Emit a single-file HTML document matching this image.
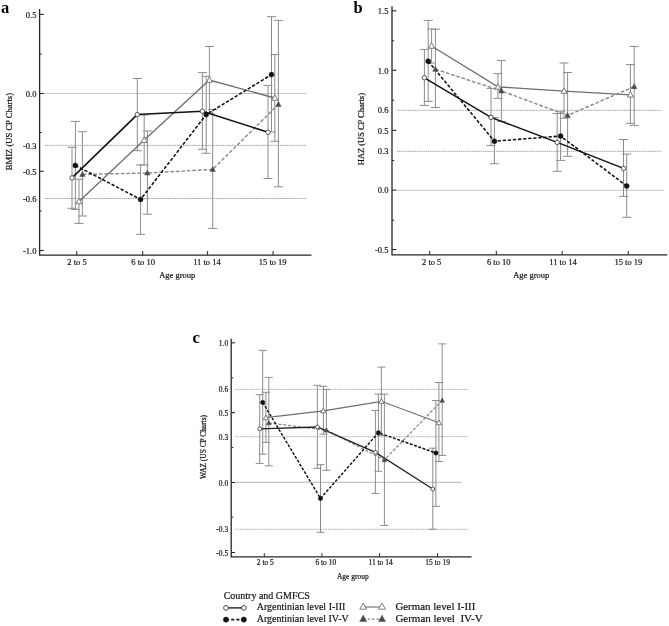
<!DOCTYPE html>
<html><head><meta charset="utf-8"><title>Figure</title>
<style>html,body{margin:0;padding:0;background:#fff;}svg{display:block;filter:grayscale(100%) blur(0.35px);}text{font-family:"Liberation Serif",serif;}</style></head><body>
<svg width="669" height="626" viewBox="0 0 669 626">
<rect width="669" height="626" fill="#fff"/>
<line x1="44.5" y1="93.5" x2="306.5" y2="93.5" stroke="#c4c4c4" stroke-width="1.1" />
<line x1="44.5" y1="145.4" x2="306.5" y2="145.4" stroke="#9a9a9a" stroke-width="0.9" stroke-dasharray="1.5 0.7"/>
<line x1="44.5" y1="198.5" x2="306.5" y2="198.5" stroke="#9a9a9a" stroke-width="0.9" stroke-dasharray="1.5 0.7"/>
<line x1="72" y1="147.3" x2="72" y2="208.3" stroke="#8c8c8c" stroke-width="1.0" />
<line x1="67.5" y1="147.3" x2="76.5" y2="147.3" stroke="#8c8c8c" stroke-width="1.0" />
<line x1="67.5" y1="208.3" x2="76.5" y2="208.3" stroke="#8c8c8c" stroke-width="1.0" />
<line x1="137.3" y1="78.5" x2="137.3" y2="150.7" stroke="#8c8c8c" stroke-width="1.0" />
<line x1="132.8" y1="78.5" x2="141.8" y2="78.5" stroke="#8c8c8c" stroke-width="1.0" />
<line x1="132.8" y1="150.7" x2="141.8" y2="150.7" stroke="#8c8c8c" stroke-width="1.0" />
<line x1="202.4" y1="72.6" x2="202.4" y2="149.3" stroke="#8c8c8c" stroke-width="1.0" />
<line x1="197.9" y1="72.6" x2="206.9" y2="72.6" stroke="#8c8c8c" stroke-width="1.0" />
<line x1="197.9" y1="149.3" x2="206.9" y2="149.3" stroke="#8c8c8c" stroke-width="1.0" />
<line x1="268" y1="85.4" x2="268" y2="178.5" stroke="#8c8c8c" stroke-width="1.0" />
<line x1="263.5" y1="85.4" x2="272.5" y2="85.4" stroke="#8c8c8c" stroke-width="1.0" />
<line x1="263.5" y1="178.5" x2="272.5" y2="178.5" stroke="#8c8c8c" stroke-width="1.0" />
<line x1="75.4" y1="121.4" x2="75.4" y2="209.4" stroke="#8c8c8c" stroke-width="1.0" />
<line x1="70.9" y1="121.4" x2="79.9" y2="121.4" stroke="#8c8c8c" stroke-width="1.0" />
<line x1="70.9" y1="209.4" x2="79.9" y2="209.4" stroke="#8c8c8c" stroke-width="1.0" />
<line x1="140.6" y1="164.9" x2="140.6" y2="234.3" stroke="#8c8c8c" stroke-width="1.0" />
<line x1="136.1" y1="164.9" x2="145.1" y2="164.9" stroke="#8c8c8c" stroke-width="1.0" />
<line x1="136.1" y1="234.3" x2="145.1" y2="234.3" stroke="#8c8c8c" stroke-width="1.0" />
<line x1="206.2" y1="76.3" x2="206.2" y2="153.3" stroke="#8c8c8c" stroke-width="1.0" />
<line x1="201.7" y1="76.3" x2="210.7" y2="76.3" stroke="#8c8c8c" stroke-width="1.0" />
<line x1="201.7" y1="153.3" x2="210.7" y2="153.3" stroke="#8c8c8c" stroke-width="1.0" />
<line x1="271.5" y1="16.7" x2="271.5" y2="132" stroke="#8c8c8c" stroke-width="1.0" />
<line x1="267" y1="16.7" x2="276" y2="16.7" stroke="#8c8c8c" stroke-width="1.0" />
<line x1="267" y1="132" x2="276" y2="132" stroke="#8c8c8c" stroke-width="1.0" />
<line x1="79" y1="179.2" x2="79" y2="223.4" stroke="#8c8c8c" stroke-width="1.0" />
<line x1="74.5" y1="179.2" x2="83.5" y2="179.2" stroke="#8c8c8c" stroke-width="1.0" />
<line x1="74.5" y1="223.4" x2="83.5" y2="223.4" stroke="#8c8c8c" stroke-width="1.0" />
<line x1="144.2" y1="115" x2="144.2" y2="165" stroke="#8c8c8c" stroke-width="1.0" />
<line x1="139.7" y1="115" x2="148.7" y2="115" stroke="#8c8c8c" stroke-width="1.0" />
<line x1="139.7" y1="165" x2="148.7" y2="165" stroke="#8c8c8c" stroke-width="1.0" />
<line x1="209.4" y1="46.5" x2="209.4" y2="113.5" stroke="#8c8c8c" stroke-width="1.0" />
<line x1="204.9" y1="46.5" x2="213.9" y2="46.5" stroke="#8c8c8c" stroke-width="1.0" />
<line x1="204.9" y1="113.5" x2="213.9" y2="113.5" stroke="#8c8c8c" stroke-width="1.0" />
<line x1="274.8" y1="54.6" x2="274.8" y2="141.3" stroke="#8c8c8c" stroke-width="1.0" />
<line x1="270.3" y1="54.6" x2="279.3" y2="54.6" stroke="#8c8c8c" stroke-width="1.0" />
<line x1="270.3" y1="141.3" x2="279.3" y2="141.3" stroke="#8c8c8c" stroke-width="1.0" />
<line x1="82.4" y1="131.7" x2="82.4" y2="216" stroke="#8c8c8c" stroke-width="1.0" />
<line x1="77.9" y1="131.7" x2="86.9" y2="131.7" stroke="#8c8c8c" stroke-width="1.0" />
<line x1="77.9" y1="216" x2="86.9" y2="216" stroke="#8c8c8c" stroke-width="1.0" />
<line x1="147.4" y1="131" x2="147.4" y2="214.2" stroke="#8c8c8c" stroke-width="1.0" />
<line x1="142.9" y1="131" x2="151.9" y2="131" stroke="#8c8c8c" stroke-width="1.0" />
<line x1="142.9" y1="214.2" x2="151.9" y2="214.2" stroke="#8c8c8c" stroke-width="1.0" />
<line x1="212.7" y1="109.5" x2="212.7" y2="228.4" stroke="#8c8c8c" stroke-width="1.0" />
<line x1="208.2" y1="109.5" x2="217.2" y2="109.5" stroke="#8c8c8c" stroke-width="1.0" />
<line x1="208.2" y1="228.4" x2="217.2" y2="228.4" stroke="#8c8c8c" stroke-width="1.0" />
<line x1="278.4" y1="20.4" x2="278.4" y2="186.8" stroke="#8c8c8c" stroke-width="1.0" />
<line x1="273.9" y1="20.4" x2="282.9" y2="20.4" stroke="#8c8c8c" stroke-width="1.0" />
<line x1="273.9" y1="186.8" x2="282.9" y2="186.8" stroke="#8c8c8c" stroke-width="1.0" />
<polyline points="79,201.5 144.2,140.1 209.4,80 274.8,98" fill="none" stroke="#6e6e6e" stroke-width="1.35"/>
<polyline points="82.4,174.4 147.4,173 212.7,169.4 278.4,104.4" fill="none" stroke="#8a8a8a" stroke-width="1.45" stroke-dasharray="3.60 1.90"/>
<polyline points="72,177.9 137.3,114.6 202.4,111.2 268,132.3" fill="none" stroke="#111" stroke-width="1.50"/>
<polyline points="75.4,165.4 140.6,199.4 206.2,114.6 271.5,74.6" fill="none" stroke="#111" stroke-width="1.55" stroke-dasharray="3.30 1.80"/>
<polygon points="79,198.35 76,203.75 82,203.75" fill="#fff" stroke="#6e6e6e" stroke-width="0.9"/>
<polygon points="144.2,136.95 141.2,142.35 147.2,142.35" fill="#fff" stroke="#6e6e6e" stroke-width="0.9"/>
<polygon points="209.4,76.85 206.4,82.25 212.4,82.25" fill="#fff" stroke="#6e6e6e" stroke-width="0.9"/>
<polygon points="274.8,94.85 271.8,100.25 277.8,100.25" fill="#fff" stroke="#6e6e6e" stroke-width="0.9"/>
<polygon points="82.4,171.6 79.7,176.46 85.1,176.46" fill="#4a4a4a" stroke="#4a4a4a" stroke-width="0.5"/>
<polygon points="147.4,170.2 144.7,175.06 150.1,175.06" fill="#4a4a4a" stroke="#4a4a4a" stroke-width="0.5"/>
<polygon points="212.7,166.6 210,171.46 215.4,171.46" fill="#4a4a4a" stroke="#4a4a4a" stroke-width="0.5"/>
<polygon points="278.4,101.59 275.7,106.45 281.1,106.45" fill="#4a4a4a" stroke="#4a4a4a" stroke-width="0.5"/>
<circle cx="72" cy="177.9" r="2.2" fill="#fff" stroke="#444" stroke-width="0.9"/>
<circle cx="137.3" cy="114.6" r="2.2" fill="#fff" stroke="#444" stroke-width="0.9"/>
<circle cx="202.4" cy="111.2" r="2.2" fill="#fff" stroke="#444" stroke-width="0.9"/>
<circle cx="268" cy="132.3" r="2.2" fill="#fff" stroke="#444" stroke-width="0.9"/>
<circle cx="75.4" cy="165.4" r="2.5" fill="#111" stroke="#111" stroke-width="0.4"/>
<circle cx="140.6" cy="199.4" r="2.5" fill="#111" stroke="#111" stroke-width="0.4"/>
<circle cx="206.2" cy="114.6" r="2.5" fill="#111" stroke="#111" stroke-width="0.4"/>
<circle cx="271.5" cy="74.6" r="2.5" fill="#111" stroke="#111" stroke-width="0.4"/>
<path d="M39.6,9 V255.2 H311.4" fill="none" stroke="#262626" stroke-width="1.3"/>
<line x1="39.6" y1="14.4" x2="43.8" y2="14.4" stroke="#262626" stroke-width="1.1" />
<line x1="39.6" y1="93.5" x2="43.8" y2="93.5" stroke="#262626" stroke-width="1.1" />
<line x1="39.6" y1="171.3" x2="43.8" y2="171.3" stroke="#262626" stroke-width="1.1" />
<line x1="39.6" y1="250.5" x2="43.8" y2="250.5" stroke="#262626" stroke-width="1.1" />
<line x1="39.6" y1="54" x2="41.8" y2="54" stroke="#262626" stroke-width="1.0" />
<line x1="39.6" y1="132.5" x2="41.8" y2="132.5" stroke="#262626" stroke-width="1.0" />
<line x1="39.6" y1="211" x2="41.8" y2="211" stroke="#262626" stroke-width="1.0" />
<line x1="76.8" y1="255.2" x2="76.8" y2="251" stroke="#262626" stroke-width="1.0" />
<line x1="142.7" y1="255.2" x2="142.7" y2="251" stroke="#262626" stroke-width="1.0" />
<line x1="207.6" y1="255.2" x2="207.6" y2="251" stroke="#262626" stroke-width="1.0" />
<line x1="273.1" y1="255.2" x2="273.1" y2="251" stroke="#262626" stroke-width="1.0" />
<text x="36.4" y="17.74" font-size="8.5" text-anchor="end" stroke="#111" stroke-width="0.18" fill="#111" >0.5</text>
<text x="36.4" y="96.84" font-size="8.5" text-anchor="end" stroke="#111" stroke-width="0.18" fill="#111" >0.0</text>
<text x="36.4" y="148.74" font-size="8.5" text-anchor="end" stroke="#111" stroke-width="0.18" fill="#111" >-0.3</text>
<text x="36.4" y="174.64" font-size="8.5" text-anchor="end" stroke="#111" stroke-width="0.18" fill="#111" >-0.5</text>
<text x="36.4" y="201.94" font-size="8.5" text-anchor="end" stroke="#111" stroke-width="0.18" fill="#111" >-0.6</text>
<text x="36.4" y="253.84" font-size="8.5" text-anchor="end" stroke="#111" stroke-width="0.18" fill="#111" >-1.0</text>
<text x="77" y="264.9" font-size="8.5" text-anchor="middle" stroke="#111" stroke-width="0.18" fill="#111" >2 to 5</text>
<text x="143.1" y="264.9" font-size="8.5" text-anchor="middle" stroke="#111" stroke-width="0.18" fill="#111" >6 to 10</text>
<text x="206.9" y="264.9" font-size="8.5" text-anchor="middle" stroke="#111" stroke-width="0.18" fill="#111" >11 to 14</text>
<text x="272.7" y="264.9" font-size="8.5" text-anchor="middle" stroke="#111" stroke-width="0.18" fill="#111" >15 to 19</text>
<text x="177.2" y="278.3" font-size="8.5" text-anchor="middle" stroke="#111" stroke-width="0.18" fill="#111" >Age group</text>
<text transform="translate(11.9,131.6) rotate(-90)" x="0" y="0" font-size="8.6" text-anchor="middle" fill="#111" stroke="#111" stroke-width="0.2">BMIZ (US CP Charts)</text>
<text x="1" y="12.8" font-size="16.5" font-weight="bold" fill="#000" >a</text>
<line x1="397" y1="190.3" x2="664.3" y2="190.3" stroke="#c4c4c4" stroke-width="1.1" />
<line x1="397" y1="110.3" x2="661.6" y2="110.3" stroke="#9a9a9a" stroke-width="0.9" stroke-dasharray="1.5 0.7"/>
<line x1="397" y1="151.3" x2="661.6" y2="151.3" stroke="#9a9a9a" stroke-width="0.9" stroke-dasharray="1.5 0.7"/>
<line x1="424.4" y1="49.4" x2="424.4" y2="105.4" stroke="#8c8c8c" stroke-width="1.0" />
<line x1="419.9" y1="49.4" x2="428.9" y2="49.4" stroke="#8c8c8c" stroke-width="1.0" />
<line x1="419.9" y1="105.4" x2="428.9" y2="105.4" stroke="#8c8c8c" stroke-width="1.0" />
<line x1="491" y1="88.4" x2="491" y2="145.6" stroke="#8c8c8c" stroke-width="1.0" />
<line x1="486.5" y1="88.4" x2="495.5" y2="88.4" stroke="#8c8c8c" stroke-width="1.0" />
<line x1="486.5" y1="145.6" x2="495.5" y2="145.6" stroke="#8c8c8c" stroke-width="1.0" />
<line x1="557.2" y1="113.5" x2="557.2" y2="171.3" stroke="#8c8c8c" stroke-width="1.0" />
<line x1="552.7" y1="113.5" x2="561.7" y2="113.5" stroke="#8c8c8c" stroke-width="1.0" />
<line x1="552.7" y1="171.3" x2="561.7" y2="171.3" stroke="#8c8c8c" stroke-width="1.0" />
<line x1="623.5" y1="139.5" x2="623.5" y2="196.4" stroke="#8c8c8c" stroke-width="1.0" />
<line x1="619" y1="139.5" x2="628" y2="139.5" stroke="#8c8c8c" stroke-width="1.0" />
<line x1="619" y1="196.4" x2="628" y2="196.4" stroke="#8c8c8c" stroke-width="1.0" />
<line x1="428.2" y1="20.4" x2="428.2" y2="101.4" stroke="#8c8c8c" stroke-width="1.0" />
<line x1="423.7" y1="20.4" x2="432.7" y2="20.4" stroke="#8c8c8c" stroke-width="1.0" />
<line x1="423.7" y1="101.4" x2="432.7" y2="101.4" stroke="#8c8c8c" stroke-width="1.0" />
<line x1="494.4" y1="117.6" x2="494.4" y2="163.7" stroke="#8c8c8c" stroke-width="1.0" />
<line x1="489.9" y1="117.6" x2="498.9" y2="117.6" stroke="#8c8c8c" stroke-width="1.0" />
<line x1="489.9" y1="163.7" x2="498.9" y2="163.7" stroke="#8c8c8c" stroke-width="1.0" />
<line x1="560.6" y1="111.8" x2="560.6" y2="160.4" stroke="#8c8c8c" stroke-width="1.0" />
<line x1="556.1" y1="111.8" x2="565.1" y2="111.8" stroke="#8c8c8c" stroke-width="1.0" />
<line x1="556.1" y1="160.4" x2="565.1" y2="160.4" stroke="#8c8c8c" stroke-width="1.0" />
<line x1="626.7" y1="154.1" x2="626.7" y2="217.3" stroke="#8c8c8c" stroke-width="1.0" />
<line x1="622.2" y1="154.1" x2="631.2" y2="154.1" stroke="#8c8c8c" stroke-width="1.0" />
<line x1="622.2" y1="217.3" x2="631.2" y2="217.3" stroke="#8c8c8c" stroke-width="1.0" />
<line x1="431.6" y1="29" x2="431.6" y2="63" stroke="#8c8c8c" stroke-width="1.0" />
<line x1="427.1" y1="29" x2="436.1" y2="29" stroke="#8c8c8c" stroke-width="1.0" />
<line x1="427.1" y1="63" x2="436.1" y2="63" stroke="#8c8c8c" stroke-width="1.0" />
<line x1="497.9" y1="73.6" x2="497.9" y2="98.4" stroke="#8c8c8c" stroke-width="1.0" />
<line x1="493.4" y1="73.6" x2="502.4" y2="73.6" stroke="#8c8c8c" stroke-width="1.0" />
<line x1="493.4" y1="98.4" x2="502.4" y2="98.4" stroke="#8c8c8c" stroke-width="1.0" />
<line x1="564" y1="63" x2="564" y2="118.2" stroke="#8c8c8c" stroke-width="1.0" />
<line x1="559.5" y1="63" x2="568.5" y2="63" stroke="#8c8c8c" stroke-width="1.0" />
<line x1="559.5" y1="118.2" x2="568.5" y2="118.2" stroke="#8c8c8c" stroke-width="1.0" />
<line x1="630.4" y1="64.6" x2="630.4" y2="123.4" stroke="#8c8c8c" stroke-width="1.0" />
<line x1="625.9" y1="64.6" x2="634.9" y2="64.6" stroke="#8c8c8c" stroke-width="1.0" />
<line x1="625.9" y1="123.4" x2="634.9" y2="123.4" stroke="#8c8c8c" stroke-width="1.0" />
<line x1="435.4" y1="29.2" x2="435.4" y2="107.5" stroke="#8c8c8c" stroke-width="1.0" />
<line x1="430.9" y1="29.2" x2="439.9" y2="29.2" stroke="#8c8c8c" stroke-width="1.0" />
<line x1="430.9" y1="107.5" x2="439.9" y2="107.5" stroke="#8c8c8c" stroke-width="1.0" />
<line x1="501.4" y1="60.4" x2="501.4" y2="121.4" stroke="#8c8c8c" stroke-width="1.0" />
<line x1="496.9" y1="60.4" x2="505.9" y2="60.4" stroke="#8c8c8c" stroke-width="1.0" />
<line x1="496.9" y1="121.4" x2="505.9" y2="121.4" stroke="#8c8c8c" stroke-width="1.0" />
<line x1="567.6" y1="72.5" x2="567.6" y2="156.3" stroke="#8c8c8c" stroke-width="1.0" />
<line x1="563.1" y1="72.5" x2="572.1" y2="72.5" stroke="#8c8c8c" stroke-width="1.0" />
<line x1="563.1" y1="156.3" x2="572.1" y2="156.3" stroke="#8c8c8c" stroke-width="1.0" />
<line x1="634.2" y1="46.4" x2="634.2" y2="125.4" stroke="#8c8c8c" stroke-width="1.0" />
<line x1="629.7" y1="46.4" x2="638.7" y2="46.4" stroke="#8c8c8c" stroke-width="1.0" />
<line x1="629.7" y1="125.4" x2="638.7" y2="125.4" stroke="#8c8c8c" stroke-width="1.0" />
<polyline points="431.6,46 497.9,86.9 564,91.1 630.4,94.8" fill="none" stroke="#6e6e6e" stroke-width="1.35"/>
<polyline points="435.4,69.2 501.4,90.9 567.6,115.4 634.2,86.6" fill="none" stroke="#8a8a8a" stroke-width="1.45" stroke-dasharray="3.60 1.90"/>
<polyline points="424.4,77.8 491,117.4 557.2,142.4 623.5,168.4" fill="none" stroke="#111" stroke-width="1.50"/>
<polyline points="428.2,61.2 494.4,141.2 560.6,136.1 626.7,186" fill="none" stroke="#111" stroke-width="1.55" stroke-dasharray="3.30 1.80"/>
<polygon points="431.6,42.85 428.6,48.25 434.6,48.25" fill="#fff" stroke="#6e6e6e" stroke-width="0.9"/>
<polygon points="497.9,83.75 494.9,89.15 500.9,89.15" fill="#fff" stroke="#6e6e6e" stroke-width="0.9"/>
<polygon points="564,87.95 561,93.35 567,93.35" fill="#fff" stroke="#6e6e6e" stroke-width="0.9"/>
<polygon points="630.4,91.65 627.4,97.05 633.4,97.05" fill="#fff" stroke="#6e6e6e" stroke-width="0.9"/>
<polygon points="435.4,66.39 432.7,71.25 438.1,71.25" fill="#4a4a4a" stroke="#4a4a4a" stroke-width="0.5"/>
<polygon points="501.4,88.09 498.7,92.95 504.1,92.95" fill="#4a4a4a" stroke="#4a4a4a" stroke-width="0.5"/>
<polygon points="567.6,112.59 564.9,117.45 570.3,117.45" fill="#4a4a4a" stroke="#4a4a4a" stroke-width="0.5"/>
<polygon points="634.2,83.79 631.5,88.65 636.9,88.65" fill="#4a4a4a" stroke="#4a4a4a" stroke-width="0.5"/>
<circle cx="424.4" cy="77.8" r="2.2" fill="#fff" stroke="#444" stroke-width="0.9"/>
<circle cx="491" cy="117.4" r="2.2" fill="#fff" stroke="#444" stroke-width="0.9"/>
<circle cx="557.2" cy="142.4" r="2.2" fill="#fff" stroke="#444" stroke-width="0.9"/>
<circle cx="623.5" cy="168.4" r="2.2" fill="#fff" stroke="#444" stroke-width="0.9"/>
<circle cx="428.2" cy="61.2" r="2.5" fill="#111" stroke="#111" stroke-width="0.4"/>
<circle cx="494.4" cy="141.2" r="2.5" fill="#111" stroke="#111" stroke-width="0.4"/>
<circle cx="560.6" cy="136.1" r="2.5" fill="#111" stroke="#111" stroke-width="0.4"/>
<circle cx="626.7" cy="186" r="2.5" fill="#111" stroke="#111" stroke-width="0.4"/>
<path d="M392,6.2 V254.9 H667.2" fill="none" stroke="#262626" stroke-width="1.3"/>
<line x1="392" y1="10.8" x2="396.4" y2="10.8" stroke="#262626" stroke-width="1.1" />
<line x1="392" y1="70.3" x2="396.4" y2="70.3" stroke="#262626" stroke-width="1.1" />
<line x1="392" y1="130.3" x2="396.4" y2="130.3" stroke="#262626" stroke-width="1.1" />
<line x1="392" y1="190.1" x2="396.4" y2="190.1" stroke="#262626" stroke-width="1.1" />
<line x1="392" y1="249.6" x2="396.4" y2="249.6" stroke="#262626" stroke-width="1.1" />
<line x1="392" y1="40.8" x2="394.2" y2="40.8" stroke="#262626" stroke-width="1.0" />
<line x1="392" y1="100.3" x2="394.2" y2="100.3" stroke="#262626" stroke-width="1.0" />
<line x1="392" y1="160.5" x2="394.2" y2="160.5" stroke="#262626" stroke-width="1.0" />
<line x1="392" y1="220.3" x2="394.2" y2="220.3" stroke="#262626" stroke-width="1.0" />
<line x1="429.7" y1="254.9" x2="429.7" y2="250.9" stroke="#262626" stroke-width="1.0" />
<line x1="496.3" y1="254.9" x2="496.3" y2="250.9" stroke="#262626" stroke-width="1.0" />
<line x1="562.2" y1="254.9" x2="562.2" y2="250.9" stroke="#262626" stroke-width="1.0" />
<line x1="628.3" y1="254.9" x2="628.3" y2="250.9" stroke="#262626" stroke-width="1.0" />
<text x="388.4" y="14.14" font-size="8.5" text-anchor="end" stroke="#111" stroke-width="0.18" fill="#111" >1.5</text>
<text x="388.4" y="73.64" font-size="8.5" text-anchor="end" stroke="#111" stroke-width="0.18" fill="#111" >1.0</text>
<text x="388.4" y="112.94" font-size="8.5" text-anchor="end" stroke="#111" stroke-width="0.18" fill="#111" >0.6</text>
<text x="388.4" y="133.64" font-size="8.5" text-anchor="end" stroke="#111" stroke-width="0.18" fill="#111" >0.5</text>
<text x="388.4" y="154.44" font-size="8.5" text-anchor="end" stroke="#111" stroke-width="0.18" fill="#111" >0.3</text>
<text x="388.4" y="193.44" font-size="8.5" text-anchor="end" stroke="#111" stroke-width="0.18" fill="#111" >0.0</text>
<text x="388.4" y="252.94" font-size="8.5" text-anchor="end" stroke="#111" stroke-width="0.18" fill="#111" >-0.5</text>
<text x="431.7" y="264.8" font-size="8.5" text-anchor="middle" stroke="#111" stroke-width="0.18" fill="#111" >2 to 5</text>
<text x="498.8" y="264.8" font-size="8.5" text-anchor="middle" stroke="#111" stroke-width="0.18" fill="#111" >6 to 10</text>
<text x="563.1" y="264.8" font-size="8.5" text-anchor="middle" stroke="#111" stroke-width="0.18" fill="#111" >11 to 14</text>
<text x="628.4" y="264.8" font-size="8.5" text-anchor="middle" stroke="#111" stroke-width="0.18" fill="#111" >15 to 19</text>
<text x="531.3" y="278.2" font-size="8.5" text-anchor="middle" stroke="#111" stroke-width="0.18" fill="#111" >Age group</text>
<text transform="translate(363.8,129.1) rotate(-90)" x="0" y="0" font-size="8.45" text-anchor="middle" fill="#111" stroke="#111" stroke-width="0.2">HAZ (US CP Charts)</text>
<text x="353.6" y="12.9" font-size="16.5" font-weight="bold" fill="#000" >b</text>
<line x1="235.5" y1="482.4" x2="461.8" y2="482.4" stroke="#c4c4c4" stroke-width="1.1" />
<line x1="235.5" y1="389.4" x2="468" y2="389.4" stroke="#aaaaaa" stroke-width="0.9" stroke-dasharray="1.5 0.7"/>
<line x1="235.5" y1="436.7" x2="468" y2="436.7" stroke="#aaaaaa" stroke-width="0.9" stroke-dasharray="1.5 0.7"/>
<line x1="235.5" y1="529.3" x2="468" y2="529.3" stroke="#aaaaaa" stroke-width="0.9" stroke-dasharray="1.5 0.7"/>
<line x1="259.7" y1="394.7" x2="259.7" y2="463.4" stroke="#8c8c8c" stroke-width="1.0" />
<line x1="255.7" y1="394.7" x2="263.7" y2="394.7" stroke="#8c8c8c" stroke-width="1.0" />
<line x1="255.7" y1="463.4" x2="263.7" y2="463.4" stroke="#8c8c8c" stroke-width="1.0" />
<line x1="317.4" y1="385.3" x2="317.4" y2="468.3" stroke="#8c8c8c" stroke-width="1.0" />
<line x1="313.4" y1="385.3" x2="321.4" y2="385.3" stroke="#8c8c8c" stroke-width="1.0" />
<line x1="313.4" y1="468.3" x2="321.4" y2="468.3" stroke="#8c8c8c" stroke-width="1.0" />
<line x1="375.4" y1="410.4" x2="375.4" y2="493.4" stroke="#8c8c8c" stroke-width="1.0" />
<line x1="371.4" y1="410.4" x2="379.4" y2="410.4" stroke="#8c8c8c" stroke-width="1.0" />
<line x1="371.4" y1="493.4" x2="379.4" y2="493.4" stroke="#8c8c8c" stroke-width="1.0" />
<line x1="432.8" y1="448.2" x2="432.8" y2="529.3" stroke="#8c8c8c" stroke-width="1.0" />
<line x1="428.8" y1="448.2" x2="436.8" y2="448.2" stroke="#8c8c8c" stroke-width="1.0" />
<line x1="428.8" y1="529.3" x2="436.8" y2="529.3" stroke="#8c8c8c" stroke-width="1.0" />
<line x1="262.7" y1="350.4" x2="262.7" y2="454.2" stroke="#8c8c8c" stroke-width="1.0" />
<line x1="258.7" y1="350.4" x2="266.7" y2="350.4" stroke="#8c8c8c" stroke-width="1.0" />
<line x1="258.7" y1="454.2" x2="266.7" y2="454.2" stroke="#8c8c8c" stroke-width="1.0" />
<line x1="320.5" y1="464.6" x2="320.5" y2="532.3" stroke="#8c8c8c" stroke-width="1.0" />
<line x1="316.5" y1="464.6" x2="324.5" y2="464.6" stroke="#8c8c8c" stroke-width="1.0" />
<line x1="316.5" y1="532.3" x2="324.5" y2="532.3" stroke="#8c8c8c" stroke-width="1.0" />
<line x1="378.4" y1="394.1" x2="378.4" y2="471.3" stroke="#8c8c8c" stroke-width="1.0" />
<line x1="374.4" y1="394.1" x2="382.4" y2="394.1" stroke="#8c8c8c" stroke-width="1.0" />
<line x1="374.4" y1="471.3" x2="382.4" y2="471.3" stroke="#8c8c8c" stroke-width="1.0" />
<line x1="435.9" y1="400.5" x2="435.9" y2="506.4" stroke="#8c8c8c" stroke-width="1.0" />
<line x1="431.9" y1="400.5" x2="439.9" y2="400.5" stroke="#8c8c8c" stroke-width="1.0" />
<line x1="431.9" y1="506.4" x2="439.9" y2="506.4" stroke="#8c8c8c" stroke-width="1.0" />
<line x1="265.9" y1="392.3" x2="265.9" y2="442.4" stroke="#8c8c8c" stroke-width="1.0" />
<line x1="261.9" y1="392.3" x2="269.9" y2="392.3" stroke="#8c8c8c" stroke-width="1.0" />
<line x1="261.9" y1="442.4" x2="269.9" y2="442.4" stroke="#8c8c8c" stroke-width="1.0" />
<line x1="323.4" y1="386.4" x2="323.4" y2="434.2" stroke="#8c8c8c" stroke-width="1.0" />
<line x1="319.4" y1="386.4" x2="327.4" y2="386.4" stroke="#8c8c8c" stroke-width="1.0" />
<line x1="319.4" y1="434.2" x2="327.4" y2="434.2" stroke="#8c8c8c" stroke-width="1.0" />
<line x1="381.4" y1="367.1" x2="381.4" y2="435.5" stroke="#8c8c8c" stroke-width="1.0" />
<line x1="377.4" y1="367.1" x2="385.4" y2="367.1" stroke="#8c8c8c" stroke-width="1.0" />
<line x1="377.4" y1="435.5" x2="385.4" y2="435.5" stroke="#8c8c8c" stroke-width="1.0" />
<line x1="438.9" y1="382.5" x2="438.9" y2="461.5" stroke="#8c8c8c" stroke-width="1.0" />
<line x1="434.9" y1="382.5" x2="442.9" y2="382.5" stroke="#8c8c8c" stroke-width="1.0" />
<line x1="434.9" y1="461.5" x2="442.9" y2="461.5" stroke="#8c8c8c" stroke-width="1.0" />
<line x1="268.8" y1="377.4" x2="268.8" y2="465.8" stroke="#8c8c8c" stroke-width="1.0" />
<line x1="264.8" y1="377.4" x2="272.8" y2="377.4" stroke="#8c8c8c" stroke-width="1.0" />
<line x1="264.8" y1="465.8" x2="272.8" y2="465.8" stroke="#8c8c8c" stroke-width="1.0" />
<line x1="326.4" y1="389.4" x2="326.4" y2="470.3" stroke="#8c8c8c" stroke-width="1.0" />
<line x1="322.4" y1="389.4" x2="330.4" y2="389.4" stroke="#8c8c8c" stroke-width="1.0" />
<line x1="322.4" y1="470.3" x2="330.4" y2="470.3" stroke="#8c8c8c" stroke-width="1.0" />
<line x1="384.4" y1="394.2" x2="384.4" y2="525.4" stroke="#8c8c8c" stroke-width="1.0" />
<line x1="380.4" y1="394.2" x2="388.4" y2="394.2" stroke="#8c8c8c" stroke-width="1.0" />
<line x1="380.4" y1="525.4" x2="388.4" y2="525.4" stroke="#8c8c8c" stroke-width="1.0" />
<line x1="442.2" y1="343.9" x2="442.2" y2="455.4" stroke="#8c8c8c" stroke-width="1.0" />
<line x1="438.2" y1="343.9" x2="446.2" y2="343.9" stroke="#8c8c8c" stroke-width="1.0" />
<line x1="438.2" y1="455.4" x2="446.2" y2="455.4" stroke="#8c8c8c" stroke-width="1.0" />
<polyline points="265.9,417.7 323.4,410.9 381.4,401.3 438.9,422.7" fill="none" stroke="#6e6e6e" stroke-width="1.19"/>
<polyline points="268.8,422.9 326.4,430.2 384.4,459.8 442.2,400.4" fill="none" stroke="#8a8a8a" stroke-width="1.28" stroke-dasharray="3.17 1.67"/>
<polyline points="259.7,428.8 317.4,427 375.4,452.4 432.8,489" fill="none" stroke="#222" stroke-width="1.30"/>
<polyline points="262.7,402.4 320.5,498.4 378.4,432.7 435.9,453" fill="none" stroke="#111" stroke-width="1.45" stroke-dasharray="2.90 1.58"/>
<polygon points="265.9,414.96 263.26,419.72 268.54,419.72" fill="#fff" stroke="#6e6e6e" stroke-width="0.9"/>
<polygon points="323.4,408.16 320.76,412.92 326.04,412.92" fill="#fff" stroke="#6e6e6e" stroke-width="0.9"/>
<polygon points="381.4,398.56 378.76,403.32 384.04,403.32" fill="#fff" stroke="#6e6e6e" stroke-width="0.9"/>
<polygon points="438.9,419.96 436.26,424.72 441.54,424.72" fill="#fff" stroke="#6e6e6e" stroke-width="0.9"/>
<polygon points="268.8,420.47 266.42,424.74 271.18,424.74" fill="#4a4a4a" stroke="#4a4a4a" stroke-width="0.5"/>
<polygon points="326.4,427.77 324.02,432.04 328.78,432.04" fill="#4a4a4a" stroke="#4a4a4a" stroke-width="0.5"/>
<polygon points="384.4,457.37 382.02,461.64 386.78,461.64" fill="#4a4a4a" stroke="#4a4a4a" stroke-width="0.5"/>
<polygon points="442.2,397.97 439.82,402.24 444.58,402.24" fill="#4a4a4a" stroke="#4a4a4a" stroke-width="0.5"/>
<circle cx="259.7" cy="428.8" r="1.9360000000000002" fill="#fff" stroke="#444" stroke-width="0.9"/>
<circle cx="317.4" cy="427" r="1.9360000000000002" fill="#fff" stroke="#444" stroke-width="0.9"/>
<circle cx="375.4" cy="452.4" r="1.9360000000000002" fill="#fff" stroke="#444" stroke-width="0.9"/>
<circle cx="432.8" cy="489" r="1.9360000000000002" fill="#fff" stroke="#444" stroke-width="0.9"/>
<circle cx="262.7" cy="402.4" r="2.2" fill="#111" stroke="#111" stroke-width="0.4"/>
<circle cx="320.5" cy="498.4" r="2.2" fill="#111" stroke="#111" stroke-width="0.4"/>
<circle cx="378.4" cy="432.7" r="2.2" fill="#111" stroke="#111" stroke-width="0.4"/>
<circle cx="435.9" cy="453" r="2.2" fill="#111" stroke="#111" stroke-width="0.4"/>
<path d="M231.2,338.8 V556.8 H471.6" fill="none" stroke="#262626" stroke-width="1.3"/>
<line x1="231.2" y1="342.8" x2="235" y2="342.8" stroke="#262626" stroke-width="1.1" />
<line x1="231.2" y1="412.6" x2="235" y2="412.6" stroke="#262626" stroke-width="1.1" />
<line x1="231.2" y1="482.5" x2="235" y2="482.5" stroke="#262626" stroke-width="1.1" />
<line x1="231.2" y1="552.5" x2="235" y2="552.5" stroke="#262626" stroke-width="1.1" />
<line x1="231.2" y1="377.8" x2="233.2" y2="377.8" stroke="#262626" stroke-width="1.0" />
<line x1="231.2" y1="447.5" x2="233.2" y2="447.5" stroke="#262626" stroke-width="1.0" />
<line x1="231.2" y1="517.2" x2="233.2" y2="517.2" stroke="#262626" stroke-width="1.0" />
<line x1="264.3" y1="556.8" x2="264.3" y2="553.2" stroke="#262626" stroke-width="1.0" />
<line x1="321.9" y1="556.8" x2="321.9" y2="553.2" stroke="#262626" stroke-width="1.0" />
<line x1="379.6" y1="556.8" x2="379.6" y2="553.2" stroke="#262626" stroke-width="1.0" />
<line x1="437.5" y1="556.8" x2="437.5" y2="553.2" stroke="#262626" stroke-width="1.0" />
<text x="228.2" y="345.8" font-size="7.5" text-anchor="end" stroke="#111" stroke-width="0.18" fill="#111" >1.0</text>
<text x="228.2" y="392.2" font-size="7.5" text-anchor="end" stroke="#111" stroke-width="0.18" fill="#111" >0.6</text>
<text x="228.2" y="415.6" font-size="7.5" text-anchor="end" stroke="#111" stroke-width="0.18" fill="#111" >0.5</text>
<text x="228.2" y="439.5" font-size="7.5" text-anchor="end" stroke="#111" stroke-width="0.18" fill="#111" >0.3</text>
<text x="228.2" y="485.5" font-size="7.5" text-anchor="end" stroke="#111" stroke-width="0.18" fill="#111" >0.0</text>
<text x="228.2" y="531.8" font-size="7.5" text-anchor="end" stroke="#111" stroke-width="0.18" fill="#111" >-0.3</text>
<text x="228.2" y="555.5" font-size="7.5" text-anchor="end" stroke="#111" stroke-width="0.18" fill="#111" >-0.5</text>
<text x="265.3" y="565" font-size="7.5" text-anchor="middle" stroke="#111" stroke-width="0.18" fill="#111" >2 to 5</text>
<text x="325.8" y="565" font-size="7.5" text-anchor="middle" stroke="#111" stroke-width="0.18" fill="#111" >6 to 10</text>
<text x="380.6" y="565" font-size="7.5" text-anchor="middle" stroke="#111" stroke-width="0.18" fill="#111" >11 to 14</text>
<text x="437.6" y="565" font-size="7.5" text-anchor="middle" stroke="#111" stroke-width="0.18" fill="#111" >15 to 19</text>
<text x="352.9" y="578.5" font-size="7.5" text-anchor="middle" stroke="#111" stroke-width="0.18" fill="#111" >Age group</text>
<text transform="translate(205.9,447) rotate(-90)" x="0" y="0" font-size="7.4" text-anchor="middle" fill="#111" stroke="#111" stroke-width="0.2">WAZ (US CP Charts)</text>
<text x="192.6" y="343.2" font-size="16.5" font-weight="bold" fill="#000" >c</text>
<text x="223.7" y="599.2" font-size="10" textLength="86" lengthAdjust="spacingAndGlyphs" stroke="#111" stroke-width="0.18" fill="#111" >Country and GMFCS</text>
<line x1="226" y1="607.9" x2="243.8" y2="607.9" stroke="#111" stroke-width="1.3" />
<circle cx="226" cy="607.9" r="2.4" fill="#fff" stroke="#333" stroke-width="0.9"/>
<circle cx="243.8" cy="607.9" r="2.4" fill="#fff" stroke="#333" stroke-width="0.9"/>
<text x="256.7" y="610" font-size="10" textLength="88.6" lengthAdjust="spacingAndGlyphs" stroke="#111" stroke-width="0.18" fill="#111" >Argentinian level I-III</text>
<line x1="226" y1="619.6" x2="243.8" y2="619.6" stroke="#111" stroke-width="1.6" stroke-dasharray="3 2.2"/>
<circle cx="226" cy="619.6" r="2.7" fill="#111" stroke="#111" stroke-width="0.4"/>
<circle cx="243.8" cy="619.6" r="2.7" fill="#111" stroke="#111" stroke-width="0.4"/>
<text x="256.7" y="621.6" font-size="10" textLength="92" lengthAdjust="spacingAndGlyphs" stroke="#111" stroke-width="0.18" fill="#111" >Argentinian level IV-V</text>
<line x1="363.2" y1="607" x2="382" y2="607" stroke="#6e6e6e" stroke-width="1.1" />
<polygon points="363.2,603.09 359.8,609.21 366.6,609.21" fill="#fff" stroke="#6e6e6e" stroke-width="0.9"/>
<polygon points="382,603.09 378.6,609.21 385.4,609.21" fill="#fff" stroke="#6e6e6e" stroke-width="0.9"/>
<text x="395.4" y="609.7" font-size="10" textLength="80" lengthAdjust="spacingAndGlyphs" stroke="#111" stroke-width="0.18" fill="#111" >German level I-III</text>
<line x1="363.2" y1="619.2" x2="382" y2="619.2" stroke="#8a8a8a" stroke-width="1.2" stroke-dasharray="2.6 1.8"/>
<polygon points="363.2,615.18 359.7,621.48 366.7,621.48" fill="#4a4a4a" stroke="#4a4a4a" stroke-width="0.5"/>
<polygon points="382,615.18 378.5,621.48 385.5,621.48" fill="#4a4a4a" stroke="#4a4a4a" stroke-width="0.5"/>
<text x="395.4" y="622" font-size="10" textLength="87.2" lengthAdjust="spacingAndGlyphs" stroke="#111" stroke-width="0.18" fill="#111" xml:space="preserve">German level  IV-V</text>
</svg></body></html>
